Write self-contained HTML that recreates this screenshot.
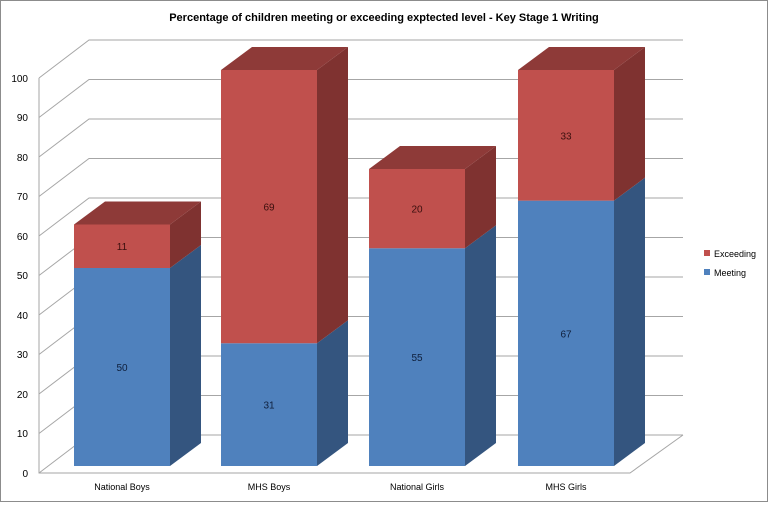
<!DOCTYPE html>
<html><head><style>body{margin:0;background:#fff}</style></head><body>
<svg width="768" height="502" xmlns="http://www.w3.org/2000/svg" font-family="Liberation Sans, sans-serif">
<rect x="0.5" y="0.5" width="767" height="501" fill="#fff" stroke="#8c8c8c"/>
<text x="384" y="21" text-anchor="middle" font-size="11" font-weight="bold" fill="#000">Percentage of children meeting or exceeding exptected level - Key Stage 1 Writing</text>
<g stroke="#a6a6a6" fill="none" stroke-width="1">
<polyline points="39,78 39,473 630,473 683,435"/>
<g id="g">
<polyline points="39,473 89,435 683,435"/>
<polyline points="39,433.5 89,395.5 683,395.5"/>
<polyline points="39,394 89,356 683,356"/>
<polyline points="39,354.5 89,316.5 683,316.5"/>
<polyline points="39,315 89,277 683,277"/>
<polyline points="39,275.5 89,237.5 683,237.5"/>
<polyline points="39,236 89,198 683,198"/>
<polyline points="39,196.5 89,158.5 683,158.5"/>
<polyline points="39,157 89,119 683,119"/>
<polyline points="39,117.5 89,79.5 683,79.5"/>
<polyline points="39,78 89,40 683,40"/>
</g>
</g>
<g font-size="10" fill="#000" text-anchor="end">
<text x="28" y="477">0</text><text x="28" y="437">10</text><text x="28" y="398">20</text><text x="28" y="358">30</text><text x="28" y="319">40</text><text x="28" y="279">50</text><text x="28" y="240">60</text><text x="28" y="200">70</text><text x="28" y="161">80</text><text x="28" y="121">90</text><text x="28" y="82">100</text>
</g>
<!-- bars: base y 466, 3.96 px/unit, depth dx 31 dy -23 -->
<g id="bars"></g>
<script>
const bars=[[74,50,11,"National Boys"],[221,31,69,"MHS Boys"],[369,55,20,"National Girls"],[518,67,33,"MHS Girls"]];
const s=3.96,b=466,w=96,dx=31,dy=-23,ns="http://www.w3.org/2000/svg";
const g=document.getElementById("bars");
function p(pts,f){const e=document.createElementNS(ns,"polygon");e.setAttribute("points",pts);e.setAttribute("fill",f);g.appendChild(e);}
function t(x,y,s2,c,sz){const e=document.createElementNS(ns,"text");e.setAttribute("x",x);e.setAttribute("y",y);e.setAttribute("text-anchor","middle");e.setAttribute("font-size",sz||10);e.setAttribute("fill",c);e.textContent=s2;g.appendChild(e);}
for(const [x,m,ex,l] of bars){
 const ym=b-m*s, yt=b-(m+ex)*s, r=x+w;
 p(`${x},${b} ${r},${b} ${r},${ym} ${x},${ym}`,"#4f81bd");
 p(`${r},${b} ${r+dx},${b+dy} ${r+dx},${ym+dy} ${r},${ym}`,"#34557f");
 p(`${x},${ym} ${r},${ym} ${r},${yt} ${x},${yt}`,"#c0504d");
 p(`${r},${ym} ${r+dx},${ym+dy} ${r+dx},${yt+dy} ${r},${yt}`,"#7f3230");
 p(`${x},${yt} ${r},${yt} ${r+dx},${yt+dy} ${x+dx},${yt+dy}`,"#8e3a38");
 t(x+w/2,(b+ym)/2+4,m,"#0f1f3c");
 t(x+w/2,(ym+yt)/2+4,ex,"#3a0f0e");
 t(x+w/2,490,l,"#000",9);
}
</script>
<rect x="704" y="250" width="6" height="6" fill="#c0504d"/>
<text x="714" y="257" font-size="9" fill="#000">Exceeding</text>
<rect x="704" y="269" width="6" height="6" fill="#4f81bd"/>
<text x="714" y="276" font-size="9" fill="#000">Meeting</text>
</svg>
</body></html>
